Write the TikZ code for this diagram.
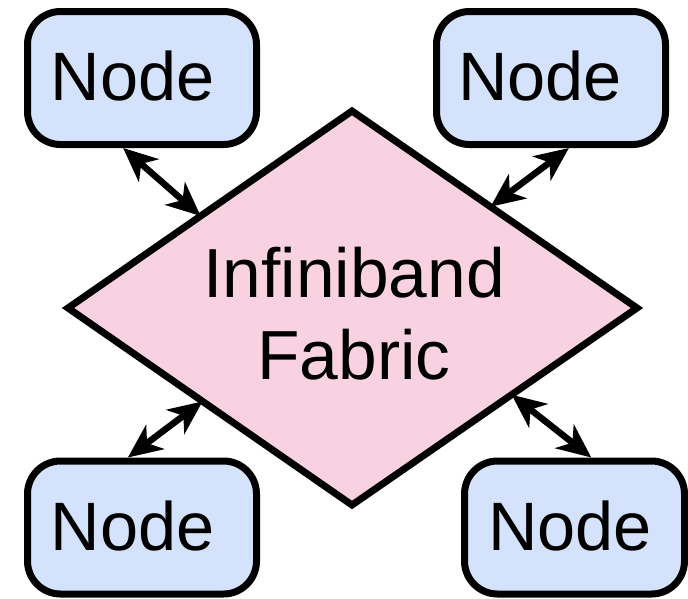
\documentclass[tikz,border=0pt]{standalone}
\usepackage{fontspec}
\setmainfont{Liberation Sans}
\usetikzlibrary{arrows.meta,calc}
\definecolor{nodefill}{RGB}{212,226,252}
\definecolor{fabfill}{RGB}{248,210,224}
\tikzset{
  hostbox/.style={draw=black, line width=7pt, fill=nodefill, rounded corners=33pt,
    inner sep=0pt, minimum height=133pt},
  hostlbl/.style={anchor=base, inner sep=0pt, font=\fontsize{68.5}{80}\selectfont},
  fabshape/.style={draw=black, line width=7pt, fill=fabfill, line join=miter},
  fablbl/.style={inner sep=0pt, align=center, font=\fontsize{69.5}{82}\selectfont},
  tipend/.tip={Stealth[length=34pt,width=30pt,inset=10pt]},
  link/.style={line width=6.5pt, tipend-tipend}
}
\begin{document}
\begin{tikzpicture}[x=1pt, y=-1pt]
  \useasboundingbox (0,0) rectangle (688,598);

  % switch fabric
  \coordinate (fl) at (68,308);
  \coordinate (ft) at (352,111);
  \coordinate (fr) at (637,308);
  \coordinate (fb) at (352,505);
  \draw[fabshape] (fl) -- (ft) -- (fr) -- (fb) -- cycle;
  \node[fablbl] (fab) at (354,314) {Infiniband\\Fabric};

  % hosts
  \node[hostbox, minimum width=229pt] (tl) at (142,78) {};
  \node[hostbox, minimum width=229pt] (tr) at (551,78) {};
  \node[hostbox, minimum width=229pt] (bl) at (142,527.5) {};
  \node[hostbox, minimum width=220pt] (br) at (574.5,527.5) {};
  \node[hostlbl] (tltxt) at (132.5,100) {Node};
  \node[hostlbl] (trtxt) at (540,100) {Node};
  \node[hostlbl] (bltxt) at (132.5,550) {Node};
  \node[hostlbl] (brtxt) at (570,550) {Node};

  % links between hosts and fabric
  \draw[link] ($(tl.south west)!0.42!(tl.south east)$) -- ($(fl)!0.467!(ft)$);
  \draw[link] ($(tr.south west)!0.576!(tr.south east)$) -- ($(ft)!0.486!(fr)$);
  \draw[link] ($(bl.north west)!0.44!(bl.north east)$) -- ($(fl)!0.474!(fb)$);
  \draw[link] ($(br.north west)!0.574!(br.north east)$) -- ($(fb)!0.56!(fr)$);
\end{tikzpicture}
\end{document}
